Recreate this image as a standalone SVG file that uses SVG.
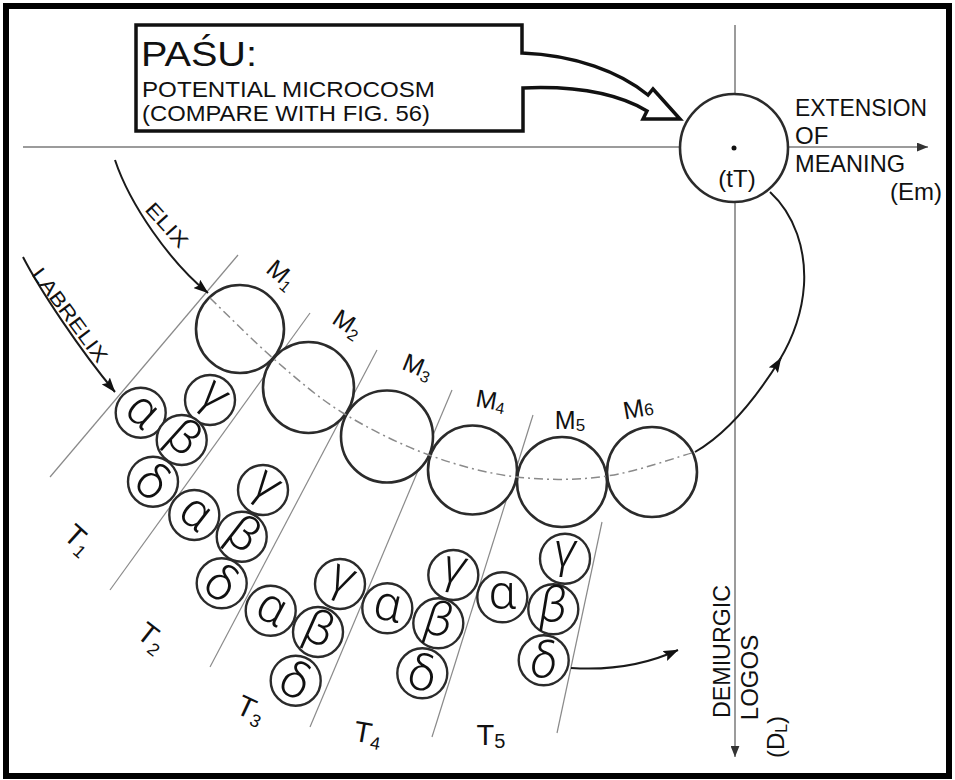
<svg xmlns="http://www.w3.org/2000/svg" width="955" height="780" viewBox="0 0 955 780">
<style>
text{font-family:"Liberation Sans",Arial,Helvetica,sans-serif;fill:#111}
.ax{stroke:#7a7a7a;stroke-width:1.5;fill:none}
.dg{stroke:#8a8a8a;stroke-width:1.2;fill:none}
.mc{fill:#fff;stroke:#2b2b2b;stroke-width:2.6}
.gc{fill:#fff;stroke:#2b2b2b;stroke-width:2.4}
.gk{font-family:Roboto,"DejaVu Sans",sans-serif;font-weight:300;font-size:49px;text-anchor:middle}
.ml{font-size:25px;text-anchor:middle}
.tl{font-size:29px;text-anchor:middle}
.arr{stroke:#1a1a1a;stroke-width:2;fill:none}
.dd{stroke:#8a8a8a;stroke-width:1.5;fill:none;stroke-dasharray:9 4 2 4}
.lab{font-size:24px}
</style>
<defs>
<marker id="ah" viewBox="0 0 14 10" refX="13.5" refY="5" markerWidth="15" markerHeight="11" markerUnits="userSpaceOnUse" orient="auto">
<path d="M0,0 L14,5 L0,10 L2.5,5 z" fill="#111"/>
</marker>
<marker id="axh" viewBox="0 0 10 8" refX="10" refY="4" markerWidth="11" markerHeight="9" markerUnits="userSpaceOnUse" orient="auto">
<path d="M0,0 L10,4 L0,8 z" fill="#333"/>
</marker>
</defs>
<rect x="0" y="0" width="955" height="780" fill="#fff"/>
<rect x="6" y="6" width="943" height="770" fill="none" stroke="#000" stroke-width="6"/>

<g id="connectors">
<g id="axes">
<path class="ax" d="M23,147 H928" marker-end="url(#axh)"/>
<path class="ax" d="M735,25 V757" marker-end="url(#axh)"/>
</g>
<g id="boundaries">
<path class="dg" d="M238,255 L50,477"/>
<path class="dg" d="M310,313 L110,590"/>
<path class="dg" d="M377,350 L210,667"/>
<path class="dg" d="M452,390 L310,727"/>
<path class="dg" d="M533,415 L432,737"/>
<path class="dg" d="M602,522 L557,733"/>
</g>
</g>

<g id="M1"><circle class="mc" cx="240" cy="329" r="44"/><text class="ml" transform="translate(282,274) rotate(40)" y="9">M<tspan font-size="16" dy="4">1</tspan></text></g>
<g id="M2"><circle class="mc" cx="308.5" cy="387.5" r="45.5"/><text class="ml" transform="translate(348,323) rotate(33)" y="9">M<tspan font-size="16" dy="4">2</tspan></text></g>
<g id="M3"><circle class="mc" cx="387" cy="436.5" r="46"/><text class="ml" transform="translate(418,366) rotate(22)" y="9">M<tspan font-size="16" dy="4">3</tspan></text></g>
<g id="M4"><circle class="mc" cx="472.5" cy="470" r="44.5"/><text class="ml" transform="translate(491,400) rotate(10)" y="9">M<tspan font-size="16" dy="3">4</tspan></text></g>
<g id="M5"><circle class="mc" cx="562" cy="482" r="45"/><text class="ml" transform="translate(570,420)" y="9">M<tspan font-size="17" dy="2">5</tspan></text></g>
<g id="M6"><circle class="mc" cx="652" cy="472" r="45"/><text class="ml" transform="translate(638,408) rotate(-10)" y="9">M<tspan font-size="17" dy="0">6</tspan></text></g>

<g id="T1-group">
<g id="T1-alpha"><circle class="gc" cx="140.7" cy="412.7" r="25"/><text class="gk" transform="translate(140.7,412.7) rotate(42)" y="12">α</text></g>
<g id="T1-gamma"><circle class="gc" cx="210" cy="400" r="25"/><text class="gk" transform="translate(210,400) rotate(42)" y="8">γ</text></g>
<g id="T1-beta"><circle class="gc" cx="181.7" cy="440" r="25"/><text class="gk" transform="translate(181.7,440) rotate(42)" y="12">β</text></g>
<g id="T1-delta"><circle class="gc" cx="153" cy="481.7" r="25"/><text class="gk" transform="translate(153,481.7) rotate(42)" y="17">δ</text></g>
</g>
<g id="T2-group">
<g id="T2-gamma"><circle class="gc" cx="263" cy="490" r="25"/><text class="gk" transform="translate(263,490) rotate(38)" y="8">γ</text></g>
<g id="T2-alpha"><circle class="gc" cx="194.3" cy="515" r="25"/><text class="gk" transform="translate(194.3,515) rotate(38)" y="12">α</text></g>
<g id="T2-beta"><circle class="gc" cx="241.7" cy="536.7" r="25"/><text class="gk" transform="translate(241.7,536.7) rotate(38)" y="12">β</text></g>
<g id="T2-delta"><circle class="gc" cx="221.7" cy="583.3" r="25"/><text class="gk" transform="translate(221.7,583.3) rotate(38)" y="17">δ</text></g>
</g>
<g id="T3-group">
<g id="T3-alpha"><circle class="gc" cx="270.7" cy="610.7" r="25"/><text class="gk" transform="translate(270.7,610.7) rotate(28)" y="12">α</text></g>
<g id="T3-gamma"><circle class="gc" cx="340" cy="584" r="25"/><text class="gk" transform="translate(340,584) rotate(24)" y="8">γ</text></g>
<g id="T3-beta"><circle class="gc" cx="318" cy="632" r="25"/><text class="gk" transform="translate(318,632) rotate(24)" y="12">β</text></g>
<g id="T3-delta"><circle class="gc" cx="295.7" cy="680.7" r="25"/><text class="gk" transform="translate(295.7,680.7) rotate(28)" y="17">δ</text></g>
</g>
<g id="T4-group">
<g id="T4-alpha"><circle class="gc" cx="387.3" cy="608.3" r="25"/><text class="gk" transform="translate(387.3,608.3) rotate(12)" y="12">α</text></g>
<g id="T4-gamma"><circle class="gc" cx="453.3" cy="575" r="25"/><text class="gk" transform="translate(453.3,575) rotate(8)" y="8" font-style="italic">γ</text></g>
<g id="T4-beta"><circle class="gc" cx="438.3" cy="623.3" r="25"/><text class="gk" transform="translate(438.3,623.3) rotate(8)" y="12" font-style="italic">β</text></g>
<g id="T4-delta"><circle class="gc" cx="422.3" cy="673.3" r="25"/><text class="gk" transform="translate(422.3,673.3) rotate(12)" y="17">δ</text></g>
</g>
<g id="T5-group">
<g id="T5-alpha"><circle class="gc" cx="502.3" cy="597.3" r="25"/><text class="gk" transform="translate(502.3,597.3)" y="12">α</text></g>
<g id="T5-gamma"><circle class="gc" cx="565" cy="558.7" r="25"/><text class="gk" transform="translate(565,558.7)" y="8" font-style="italic">γ</text></g>
<g id="T5-beta"><circle class="gc" cx="553.3" cy="609.3" r="25"/><text class="gk" transform="translate(553.3,609.3)" y="12" font-style="italic">β</text></g>
<g id="T5-delta"><circle class="gc" cx="543.7" cy="660.3" r="25"/><text class="gk" transform="translate(543.7,660.3)" y="17" font-style="italic">δ</text></g>
</g>

<g id="connectors-top">
<path class="dd" d="M210,298 C220.8,308.3 252.8,340.8 275,360 C297.2,379.2 317.3,397.2 343,413 C368.7,428.8 400,444.3 429,455 C458,465.7 487.3,473.5 517,477 C546.7,480.5 577.3,480.2 607,476 C636.7,471.8 680.3,456 695,452"/>
<path class="arr" d="M695,452 C730,432 760,392 781,358" marker-end="url(#ah)"/>
<path class="arr" d="M770,192 C795,215 806,250 804,285 C802,315 793,338 779,361"/>
<path class="arr" d="M115,160 C130,205 170,262 208,293" marker-end="url(#ah)"/>
<path class="arr" d="M23,257 C40,290 80,350 115,392" marker-end="url(#ah)"/>
<path class="arr" d="M571,668 Q630,672 678,650" marker-end="url(#ah)"/>
</g>

<g id="callout">
<path d="M136,25 H522 V53 C575,55 620,72 648,95 L653,89 L680,119 L643,119 L647,111 C615,92 570,86 523,88 V131 H136 Z" fill="#fff" stroke="#111" stroke-width="3.5" stroke-linejoin="miter"/>
<text x="141" y="66" font-size="35" textLength="116" lengthAdjust="spacingAndGlyphs">PAŚU:</text>
<text x="142" y="97" font-size="21.5" textLength="293" lengthAdjust="spacingAndGlyphs">POTENTIAL MICROCOSM</text>
<text x="142" y="121" font-size="21.5" textLength="288" lengthAdjust="spacingAndGlyphs">(COMPARE WITH FIG. 56)</text>
</g>

<g id="tT">
<circle class="mc" cx="734" cy="148" r="54"/>
<circle cx="734" cy="148" r="2.5" fill="#111"/>
<text class="lab" x="737" y="187" text-anchor="middle">(tT)</text>
</g>

<g id="Em-label">
<text class="lab" x="795" y="116" textLength="132" lengthAdjust="spacingAndGlyphs">EXTENSION</text>
<text class="lab" x="795" y="144">OF</text>
<text class="lab" x="795" y="172" textLength="110" lengthAdjust="spacingAndGlyphs">MEANING</text>
<text class="lab" x="942" y="200" text-anchor="end">(Em)</text>
</g>

<g id="DL-label">
<text class="lab" transform="translate(730,651.5) rotate(-90)" text-anchor="middle" textLength="133" lengthAdjust="spacingAndGlyphs">DEMIURGIC</text>
<text class="lab" transform="translate(758,677.5) rotate(-90)" text-anchor="middle">LOGOS</text>
<text class="lab" transform="translate(784,737) rotate(-90)" text-anchor="middle">(D<tspan font-size="16" dy="3">L</tspan><tspan dy="-3">)</tspan></text>
</g>

<g id="ELIX-label"><text transform="translate(167,225) rotate(48)" y="7" font-size="20" text-anchor="middle" textLength="53" lengthAdjust="spacingAndGlyphs">ELIX</text></g>
<g id="LABRELIX-label"><text transform="translate(70,315) rotate(53.5)" y="7" font-size="20" text-anchor="middle" textLength="112" lengthAdjust="spacingAndGlyphs">LABRELIX</text></g>

<g id="T-labels">
<text class="tl" transform="translate(79,539) rotate(42)" y="10">T<tspan font-size="18" dy="5">1</tspan></text>
<text class="tl" transform="translate(152,637) rotate(38)" y="10">T<tspan font-size="18" dy="5">2</tspan></text>
<text class="tl" transform="translate(251,709) rotate(25)" y="10">T<tspan font-size="18" dy="5">3</tspan></text>
<text class="tl" transform="translate(368,733) rotate(10)" y="10">T<tspan font-size="18" dy="5">4</tspan></text>
<text class="tl" transform="translate(491,735)" y="10">T<tspan font-size="20" dy="3">5</tspan></text>
</g>
</svg>
